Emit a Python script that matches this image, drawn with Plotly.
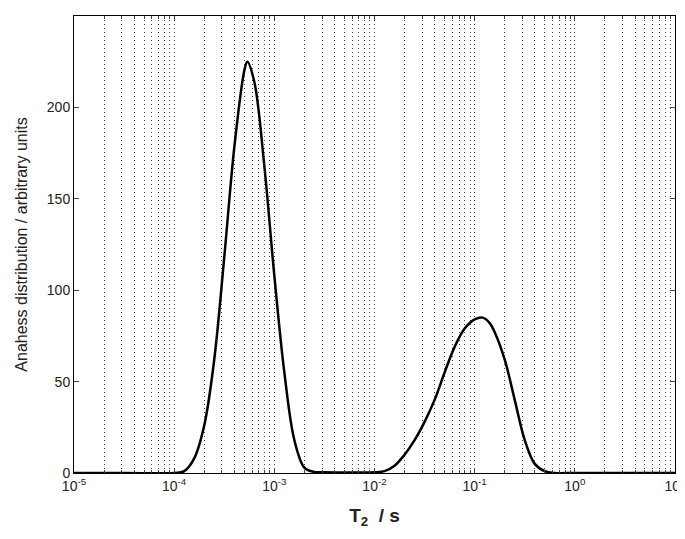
import plotly.graph_objects as go

log_t2 = [-5, -4.5, -4.0, -3.9, -3.8, -3.7, -3.6, -3.5, -3.4, -3.3, -3.27, -3.2, -3.1, -3.0, -2.9, -2.8, -2.7, -2.6,
          -2.5, -2.2, -2.0, -1.9, -1.8, -1.7, -1.6, -1.5, -1.4, -1.3, -1.2, -1.1, -1.0, -0.92, -0.85, -0.8, -0.7,
          -0.6, -0.5, -0.4, -0.3, -0.2, 0, 0.5, 1]
amp = [0, 0, 0, 1, 8, 26, 62, 118, 178, 220, 225, 214, 168, 108, 55, 18, 3, 0.6,
       0.4, 0.3, 0.4, 1, 4, 10, 18, 28, 40, 55, 69, 79, 84, 85, 82, 77, 62,
       40, 18, 5, 1, 0, 0, 0, 0]
t2 = [10 ** v for v in log_t2]

tickvals = [1e-5, 1e-4, 1e-3, 1e-2, 1e-1, 1e0, 1e1]
ticktext = ["10<sup>-5</sup>", "10<sup>-4</sup>", "10<sup>-3</sup>", "10<sup>-2</sup>",
            "10<sup>-1</sup>", "10<sup>0</sup>", "10<sup>1</sup>"]

fig = go.Figure(go.Scatter(x=t2, y=amp, mode="lines", line=dict(color="black", width=2.5, shape="spline")))
fig.update_layout(
    width=685, height=539, plot_bgcolor="white", paper_bgcolor="white",
    margin=dict(l=66, r=12, t=7, b=74), showlegend=False,
    font=dict(family="Liberation Sans, Arial", size=14, color="#222"),
)
fig.update_xaxes(type="log", range=[-5, 1], tickvals=tickvals, ticktext=ticktext,
                 showline=True, linecolor="black", mirror="ticks", ticks="inside", ticklen=5,
                 showgrid=True, gridcolor="#444", griddash="1px,3px", gridwidth=1,
                 minor=dict(dtick="D1", showgrid=True, gridcolor="#444", griddash="1px,3px", ticks="inside", ticklen=3),
                 title=dict(text="<b>T<sub>2</sub>  / s</b>", font=dict(size=19)))
fig.update_yaxes(range=[0, 250], dtick=50, showline=True, linecolor="black", mirror="ticks",
                 ticks="inside", ticklen=5, showgrid=False, zeroline=False,
                 title=dict(text="Anahess distribution / arbitrary units", font=dict(size=16)))
fig.write_html("out.html")
